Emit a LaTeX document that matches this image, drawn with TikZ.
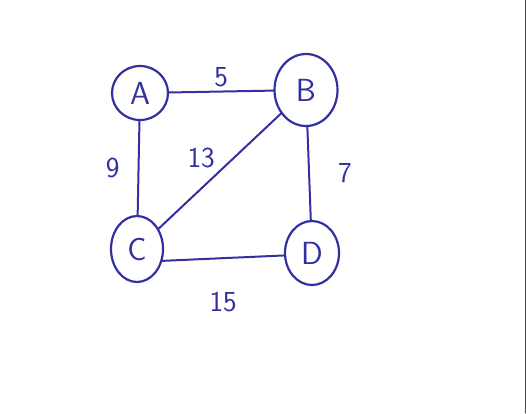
\documentclass[tikz,border=0pt]{standalone}
\usetikzlibrary{shapes.geometric,positioning}
\definecolor{ink}{RGB}{50,48,160}
\tikzset{
  every picture/.append style={line cap=round,line join=round},
  graph vertex/.style={ellipse,draw=ink,line width=2.2pt,text=ink,inner sep=0pt,
    font=\sffamily\fontsize{32}{32}\selectfont},
  graph edge/.style={ink,line width=2pt},
  graph weight/.style={text=ink,inner sep=2pt,font=\sffamily\fontsize{29}{29}\selectfont}
}

\begin{document}
\begin{tikzpicture}[x=1pt,y=-1pt]
  \useasboundingbox (0,0) rectangle (526,413);
  % scan border
  \draw[black!70,line width=1pt] (525.5,0) -- (525.5,413);
  % vertices
  \node[graph vertex,minimum width=56,minimum height=54] (A) at (140,93) {A};
  \node[graph vertex,minimum width=63,minimum height=72] (B) at (306,90) {B};
  \node[graph vertex,minimum width=52,minimum height=66] (C) at (137,249) {C};
  \node[graph vertex,minimum width=54,minimum height=64] (D) at (312,253) {D};
  % weighted edges
  \draw[graph edge] (A) -- node[graph weight,above=2pt] {5} (B);
  \draw[graph edge] (A) -- node[graph weight,left=16pt] {9} (C);
  \draw[graph edge] (B) -- node[graph weight,above left=0pt and 2pt] {13} (C);
  \draw[graph edge] (B) -- node[graph weight,right=26pt] {7} (D);
  \draw[graph edge] (C.-25) -- node[graph weight,below=31pt] {15} (D.185);
\end{tikzpicture}
\end{document}
